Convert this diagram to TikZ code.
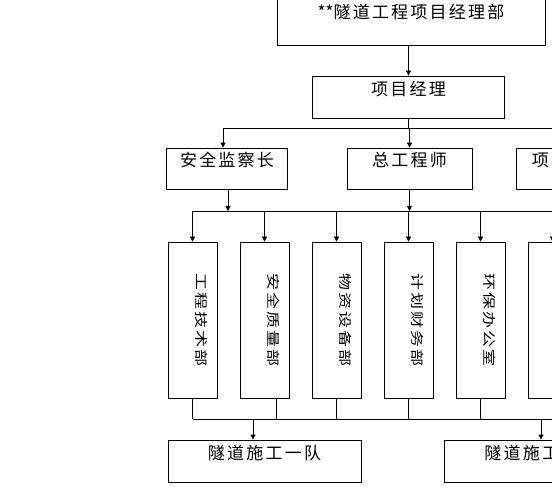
\documentclass[tikz,border=0pt]{standalone}
\usepackage{fontspec}
\setmainfont[LetterSpace=13]{Noto Sans CJK SC}
\newfontfamily\plainfont{Noto Sans CJK SC}
\usetikzlibrary{arrows.meta}
\begin{document}
\begin{tikzpicture}[x=1pt,y=-1pt,
  line width=0.8pt,
  box/.style={draw, inner sep=0pt, text height=19.5pt, font=\fontsize{17}{20}\selectfont},
  vbox/.style={draw, rotate=-90, inner sep=0pt, minimum width=156pt, text height=21pt, text depth=28pt, font=\fontsize{17}{20}\selectfont},
  lbl/.style={inner sep=0pt, anchor=base west, font=\fontsize{17}{20}\selectfont},
  arr/.style={-{Triangle[length=5pt,width=5pt]}}]
\useasboundingbox (0,0) rectangle (552,489);
\clip (0,0) rectangle (552,489);
% level 1
\node[box, minimum width=268pt, text height=20.8pt, text depth=26.2pt] (top) at (411,21.5) {{\plainfont **}隧道工程项目经理部};
\node[box, minimum width=192pt, text height=19.8pt, text depth=22.2pt] (pm) at (408.5,97) {项目经理};
% level 3
\node[box, minimum width=121pt, text height=18.8pt, text depth=22.2pt] (safety) at (227,168.5) {安全监察长};
\node[box, minimum width=125pt, text height=18.8pt, text depth=22.2pt] (chief) at (409.5,168.5) {总工程师};
\node[box, minimum width=125pt, minimum height=41pt] (vp) at (578.5,168.5) {};
\node[lbl] (vplbl) at (531.5,166.8) {项};
% departments
\node[vbox] (d1) at (192.5,320) {\scalebox{1}[0.78]{工程技术部}};
\node[vbox] (d2) at (264.5,320) {\scalebox{1}[0.78]{安全质量部}};
\node[vbox] (d3) at (336.5,320) {\scalebox{1}[0.78]{物资设备部}};
\node[vbox] (d4) at (408.5,320) {\scalebox{1}[0.78]{计划财务部}};
\node[vbox] (d5) at (480.5,320) {\scalebox{1}[0.78]{环保办公室}};
\node[vbox] (d6) at (552.5,320) {};
% teams
\node[box, minimum width=193pt, text depth=22.5pt] (team1) at (264.5,461) {隧道施工一队};
\node[box, minimum width=193pt, minimum height=42pt] (team2) at (540.5,461) {};
\node[lbl] (team2lbl) at (484,459.5) {隧道施工};
% connectors
\coordinate (bus1L) at (223,128);
\coordinate (bus1R) at (600,128);
\coordinate (bus2L) at (192.5,211);
\coordinate (bus2R) at (600,211);
\coordinate (s1) at (228,211);
\coordinate (bus3L) at (192.5,419);
\coordinate (bus3R) at (600,419);
\coordinate (d2b) at (276,419);
\coordinate (t1) at (253,419);
\coordinate (t2) at (541,419);
\draw[arr] (pm.north |- top.south) -- (pm.north);
\draw (pm.south) -- (pm.south |- bus1L);
\draw (bus1L) -- (bus1R);
\draw[arr] (bus1L) -- (bus1L |- safety.north);
\draw[arr] (chief.north |- bus1L) -- (chief.north);
\draw[arr] (vp.north |- bus1L) -- (vp.north);
\draw[arr] (s1 |- safety.south) -- (s1);
\draw[arr] (chief.south) -- (chief.south |- bus2L);
\draw (bus2L) -- (bus2R);
\foreach \d in {d1,d2,d3,d4,d5,d6}{
  \draw[arr] (\d |- bus2L) -- (\d.west);
}
\foreach \d in {d1,d3,d4,d5,d6}{
  \draw (\d.east) -- (\d |- bus3L);
}
\draw (d2b |- d2.east) -- (d2b);
\draw (bus3L) -- (bus3R);
\draw[arr] (t1) -- (t1 |- team1.north);
\draw[arr] (t2) -- (t2 |- team2.north);
\end{tikzpicture}
\end{document}
